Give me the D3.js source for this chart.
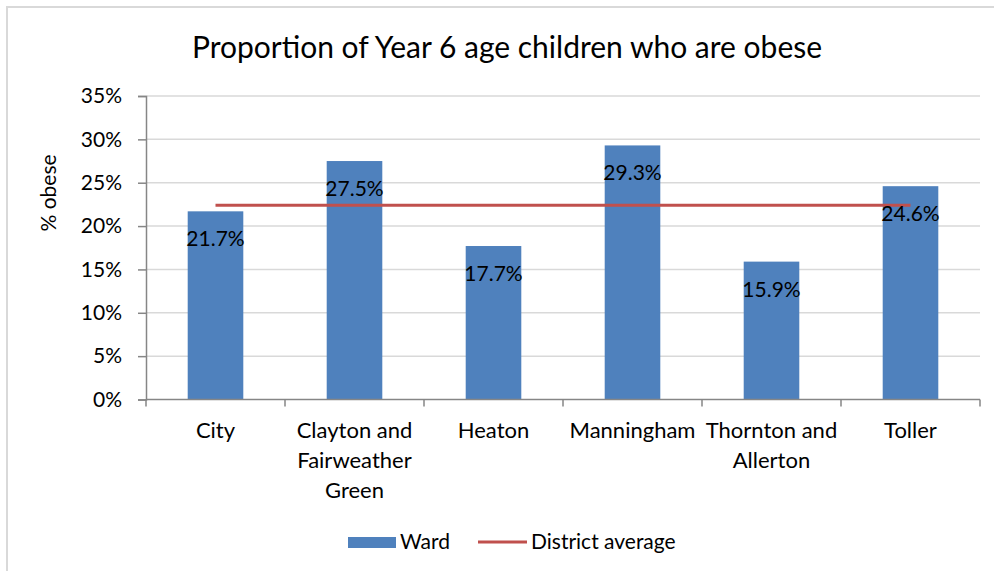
<!DOCTYPE html>
<html><head><meta charset="utf-8">
<script src="https://cdn.jsdelivr.net/npm/d3@7"></script>
<style>body{margin:0;background:#fff}svg{display:block}text{font-family:Lato,"Open Sans",sans-serif;fill:#000}</style>
</head><body>
<script>
const categories = [["City"],["Clayton and","Fairweather","Green"],["Heaton"],["Manningham"],["Thornton and","Allerton"],["Toller"]];
const wardValues = [21.7, 27.5, 17.7, 29.3, 15.9, 24.6];
const districtAverage = [22.4, 22.4, 22.4, 22.4, 22.4, 22.4];
const yTicks = [0,5,10,15,20,25,30,35];
const title = "Proportion of Year 6 age children who are obese";
const yLabel = "% obese";
const legendLabels = ["Ward","District average"];

const W=994,H=571;
const svg=d3.select("body").append("svg").attr("width",W).attr("height",H);
svg.append("path").attr("d",`M7,${H} V7 H${W}`).attr("fill","none").attr("stroke","#d9d9d9").attr("stroke-width",2);

const x=d3.scaleBand().domain(d3.range(categories.length)).range([146,980]).paddingInner(0.6).paddingOuter(0.3);
const y=d3.scaleLinear().domain([0,35]).range([399.5,96]);

// gridlines
svg.append("g").selectAll("line").data(yTicks.slice(1)).join("line")
 .attr("x1",146).attr("x2",980).attr("y1",d=>y(d)).attr("y2",d=>y(d))
 .attr("stroke","#d9d9d9").attr("stroke-width",1.5);

// bars
svg.append("g").selectAll("rect").data(wardValues).join("rect")
 .attr("x",(d,i)=>x(i)).attr("width",x.bandwidth()).attr("y",d=>y(d)).attr("height",d=>y(0)-y(d))
 .attr("fill","#4F81BD");

// y axis
const yAxis=d3.axisLeft(y).tickValues(yTicks).tickFormat(d=>d+"%").tickSize(8).tickPadding(16);
const ga=svg.append("g").attr("transform","translate(146,0)").call(yAxis);
ga.select(".domain").attr("stroke","#868686").attr("stroke-width",1.5);
ga.selectAll(".tick line").attr("stroke","#868686").attr("stroke-width",1.5);
ga.selectAll("text").attr("font-size",21).attr("font-family","Lato").attr("fill","#000");

// x axis line & ticks
const step=x.step();
svg.append("line").attr("x1",146).attr("x2",980).attr("y1",y(0)).attr("y2",y(0)).attr("stroke","#868686").attr("stroke-width",1.5);
svg.append("g").selectAll("line").data(d3.range(categories.length+1)).join("line")
 .attr("x1",i=>146+i*step).attr("x2",i=>146+i*step).attr("y1",y(0)).attr("y2",y(0)+7)
 .attr("stroke","#868686").attr("stroke-width",1.5);

// category labels
const cl=svg.append("g").selectAll("text").data(categories).join("text")
 .attr("x",(d,i)=>x(i)+x.bandwidth()/2).attr("y",438).attr("text-anchor","middle").attr("font-size",22);
cl.selectAll("tspan").data(d=>d).join("tspan").attr("x",function(){return this.parentNode.getAttribute("x");})
 .attr("dy",(d,i)=>i?30:0).text(d=>d);

// district average line
const line=d3.line().x((d,i)=>x(i)+x.bandwidth()/2).y(d=>y(d));
svg.append("path").datum(districtAverage).attr("d",line).attr("fill","none").attr("stroke","#C0504D").attr("stroke-width",3);

// data labels
svg.append("g").selectAll("text").data(wardValues).join("text")
 .attr("x",(d,i)=>x(i)+x.bandwidth()/2).attr("y",d=>y(d)+35).attr("text-anchor","middle").attr("font-size",21)
 .text(d=>d.toFixed(1)+"%");

// title
svg.append("text").attr("x",507).attr("y",58).attr("text-anchor","middle").attr("font-size",30).text(title);
// y label
svg.append("text").attr("transform","translate(56,193) rotate(-90)").attr("text-anchor","middle").attr("font-size",21).text(yLabel);

// legend
svg.append("rect").attr("x",348).attr("y",537).attr("width",48).attr("height",11).attr("fill","#4F81BD");
svg.append("text").attr("x",400).attr("y",549).attr("font-size",21).text(legendLabels[0]);
svg.append("line").attr("x1",478).attr("x2",527).attr("y1",542).attr("y2",542).attr("stroke","#C0504D").attr("stroke-width",3);
svg.append("text").attr("x",531).attr("y",549).attr("font-size",21).text(legendLabels[1]);
</script>
</body></html>
